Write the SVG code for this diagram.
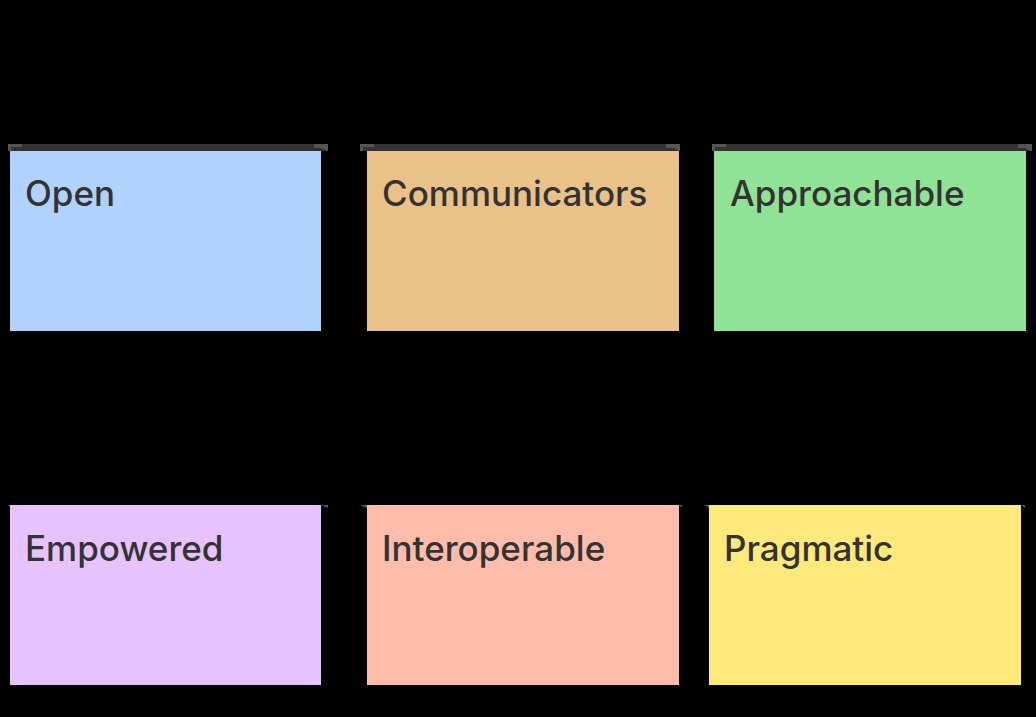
<svg xmlns="http://www.w3.org/2000/svg" width="1036" height="717" viewBox="0 0 1036 717">
<style>
.bar{fill:#333333}
.corner{fill:#555555}
.lbl{font-family:Inter,"Liberation Sans",sans-serif;font-size:35px;font-weight:500;fill:#333333}
</style>
<rect x="0" y="0" width="1036" height="717" fill="#000000"/>
<g id="node-open">
<rect class="bar" x="8" y="144" width="320" height="7"/>
<path class="corner" d="M8 144h14v3l-11 0v4h-3z M314 144h14v7l-7 -3h-7z"/>
<rect x="10" y="151" width="311" height="180" fill="#b1d2fe"/>
<text class="lbl" x="25" y="206">Open</text>
</g>
<g id="node-communicators">
<rect class="bar" x="360" y="144" width="320" height="7"/>
<path class="corner" d="M360 144h14v3l-11 0v4h-3z M666 144h14v7l-7 -3h-7z"/>
<rect x="367" y="151" width="312" height="180" fill="#eac289"/>
<text class="lbl" x="382" y="206">Communicators</text>
</g>
<g id="node-approachable">
<rect class="bar" x="712" y="144" width="320" height="7"/>
<path class="corner" d="M712 144h14v3l-11 0v4h-3z M1018 144h14v7l-7 -3h-7z"/>
<rect x="714" y="151" width="312" height="180" fill="#90e394"/>
<text class="lbl" x="730" y="206">Approachable</text>
</g>
<g id="node-empowered">
<path class="corner" d="M8 505h3v3z M321 505h7l0 3z"/>
<rect x="10" y="505" width="311" height="180" fill="#e8c2fe"/>
<text class="lbl" x="25" y="561">Empowered</text>
</g>
<g id="node-interoperable">
<path class="corner" d="M360 505h7v3z M679 505h3v3z"/>
<rect x="367" y="505" width="312" height="180" fill="#ffbcab"/>
<text class="lbl" x="382" y="561">Interoperable</text>
</g>
<g id="node-pragmatic">
<path class="corner" d="M704 505h5v3z M1021 505h4v3z"/>
<rect x="709" y="505" width="312" height="180" fill="#ffe97a"/>
<text class="lbl" x="724" y="561">Pragmatic</text>
</g>
<g id="connectors"></g>
</svg>
